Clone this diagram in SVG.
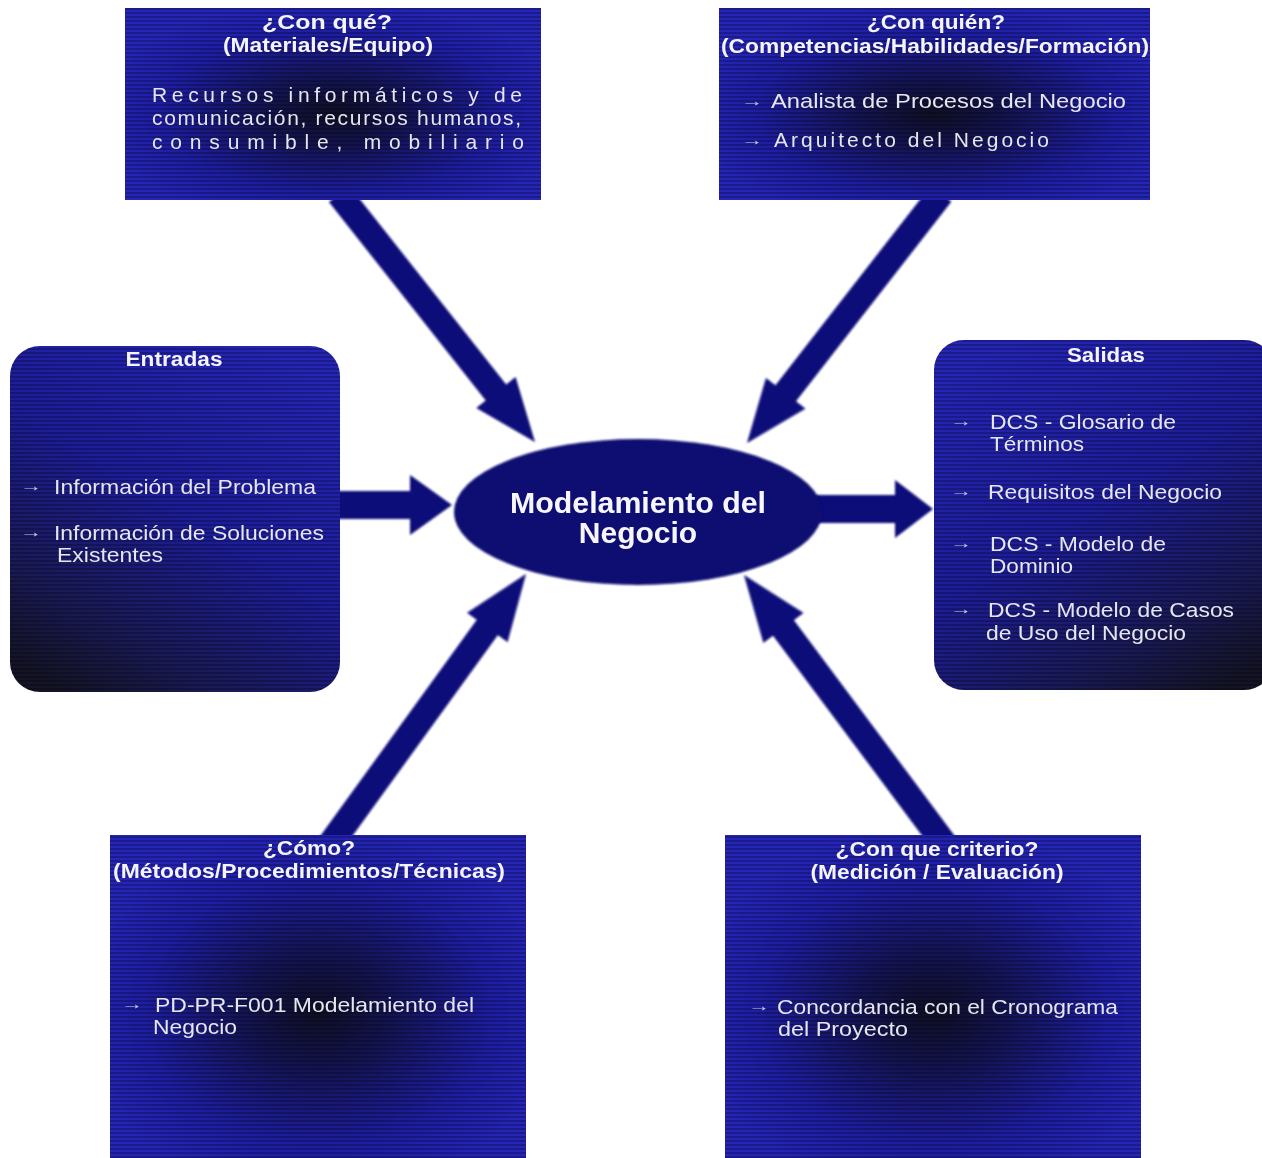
<svg xmlns="http://www.w3.org/2000/svg" width="1262" height="1158" viewBox="0 0 1262 1158">
  <style>
    .t { font-family: "Liberation Sans", Arial, sans-serif; fill: #e6e6ee; }
    .h { font-weight: bold; font-size: 20px; text-anchor: middle; fill: #f4f4fa; }
    .hs { font-weight: bold; font-size: 20px; text-anchor: middle; fill: #f4f4fa; }
    .b { font-size: 21px; }
    .bul { font-size: 15px; fill: #c8c8e4; }
    .core { font-weight: bold; font-size: 30px; text-anchor: middle; fill: #f6f6fc; }
    .conn { fill: #0a0a7a; }
  </style>
  <defs>
    <pattern id="scan" width="4" height="4" patternUnits="userSpaceOnUse">
      <rect x="0" y="0" width="4" height="2" fill="#000018" opacity="0.28"/>
    </pattern>
    <radialGradient id="gRad" cx="0.5" cy="0.55" r="0.58">
      <stop offset="0" stop-color="#0f0f22"/>
      <stop offset="0.3" stop-color="#141450"/>
      <stop offset="0.72" stop-color="#1e1ea2"/>
      <stop offset="1" stop-color="#2525b8"/>
    </radialGradient>
    <linearGradient id="gLeft" x1="0.75" y1="0" x2="0.15" y2="1">
      <stop offset="0" stop-color="#2525b6"/>
      <stop offset="0.45" stop-color="#1d1d98"/>
      <stop offset="0.8" stop-color="#1a1a52"/>
      <stop offset="1" stop-color="#141422"/>
    </linearGradient>
    <linearGradient id="gRight" x1="0.25" y1="0" x2="0.85" y2="1">
      <stop offset="0" stop-color="#2525b6"/>
      <stop offset="0.45" stop-color="#1d1d98"/>
      <stop offset="0.8" stop-color="#1a1a52"/>
      <stop offset="1" stop-color="#141422"/>
    </linearGradient>
    <filter id="soft" x="-10%" y="-10%" width="120%" height="120%">
      <feGaussianBlur stdDeviation="0.8"/>
    </filter>
  </defs>

  <rect width="1262" height="1158" fill="#ffffff"/>

  <!-- block arrows: tip at local origin, shaft running back along -x -->
  <g id="connectors" class="conn" filter="url(#soft)">
    <polygon transform="translate(535,442) rotate(51.7)" points="0,0 -63,-25 -63,-13 -316,-13 -316,13 -63,13 -63,25"/>
    <polygon transform="translate(747,443) rotate(127.9)" points="0,0 -63,-25 -63,-13 -316,-13 -316,13 -63,13 -63,25"/>
    <polygon transform="translate(452,505)" points="0,0 -42,-30 -42,-14 -114,-14 -114,14 -42,14 -42,30"/>
    <polygon transform="translate(933,509)" points="0,0 -38,-29 -38,-14 -118,-14 -118,14 -38,14 -38,29"/>
    <polygon transform="translate(526,574) rotate(-54.1)" points="0,0 -66,-25 -66,-13 -336,-13 -336,13 -66,13 -66,25"/>
    <polygon transform="translate(744,575) rotate(-126.7)" points="0,0 -66,-25 -66,-13 -338,-13 -338,13 -66,13 -66,25"/>
  </g>

  <!-- central process -->
  <g id="core">
    <ellipse cx="638" cy="512" rx="184" ry="73" fill="#0a0a72" filter="url(#soft)"/>
    <text class="t core" x="638" y="513" textLength="256" lengthAdjust="spacingAndGlyphs">Modelamiento del</text>
    <text class="t core" x="638" y="543">Negocio</text>
  </g>

  <!-- ¿Con qué? -->
  <g id="con-que">
    <rect x="125" y="8" width="416" height="192" fill="url(#gRad)"/>
    <rect x="125" y="8" width="416" height="192" fill="url(#scan)"/>
    <text class="t h" x="327" y="29" textLength="130" lengthAdjust="spacingAndGlyphs">¿Con qué?</text>
    <text class="t h" x="328" y="52" textLength="210" lengthAdjust="spacingAndGlyphs">(Materiales/Equipo)</text>
    <text class="t b" x="152" y="102" textLength="370" lengthAdjust="spacing">Recursos informáticos y de</text>
    <text class="t b" x="152" y="125" textLength="369" lengthAdjust="spacing">comunicación, recursos humanos,</text>
    <text class="t b" x="152" y="149" textLength="372" lengthAdjust="spacing">consumible, mobiliario</text>
  </g>

  <!-- ¿Con quién? -->
  <g id="con-quien">
    <rect x="719" y="8" width="431" height="192" fill="url(#gRad)"/>
    <rect x="719" y="8" width="431" height="192" fill="url(#scan)"/>
    <text class="t h" x="936" y="29" textLength="138" lengthAdjust="spacingAndGlyphs">¿Con quién?</text>
    <text class="t h" x="935" y="53" textLength="428" lengthAdjust="spacingAndGlyphs">(Competencias/Habilidades/Formación)</text>
    <text class="t bul" x="741" y="106" textLength="22" lengthAdjust="spacingAndGlyphs">→</text>
    <text class="t b" x="771" y="108" textLength="355" lengthAdjust="spacingAndGlyphs">Analista de Procesos del Negocio</text>
    <text class="t bul" x="741" y="145" textLength="22" lengthAdjust="spacingAndGlyphs">→</text>
    <text class="t b" x="774" y="147" textLength="275" lengthAdjust="spacing">Arquitecto del Negocio</text>
  </g>

  <!-- Entradas -->
  <g id="entradas">
    <rect x="10" y="346" width="330" height="346" rx="30" fill="url(#gLeft)"/>
    <rect x="10" y="346" width="330" height="346" rx="30" fill="url(#scan)"/>
    <text class="t hs" x="174" y="366" textLength="97" lengthAdjust="spacingAndGlyphs">Entradas</text>
    <text class="t bul" x="20" y="491" textLength="22" lengthAdjust="spacingAndGlyphs">→</text>
    <text class="t b" x="54" y="494" textLength="262" lengthAdjust="spacingAndGlyphs">Información del Problema</text>
    <text class="t bul" x="20" y="537" textLength="22" lengthAdjust="spacingAndGlyphs">→</text>
    <text class="t b" x="54" y="540" textLength="270" lengthAdjust="spacingAndGlyphs">Información de Soluciones</text>
    <text class="t b" x="57" y="562" textLength="106" lengthAdjust="spacingAndGlyphs">Existentes</text>
  </g>

  <!-- Salidas -->
  <g id="salidas">
    <rect x="934" y="340" width="340" height="350" rx="30" fill="url(#gRight)"/>
    <rect x="934" y="340" width="340" height="350" rx="30" fill="url(#scan)"/>
    <text class="t hs" x="1106" y="362" textLength="78" lengthAdjust="spacingAndGlyphs">Salidas</text>
    <text class="t bul" x="950" y="426" textLength="22" lengthAdjust="spacingAndGlyphs">→</text>
    <text class="t b" x="990" y="429" textLength="186" lengthAdjust="spacingAndGlyphs">DCS - Glosario de</text>
    <text class="t b" x="990" y="451" textLength="94" lengthAdjust="spacingAndGlyphs">Términos</text>
    <text class="t bul" x="950" y="496" textLength="22" lengthAdjust="spacingAndGlyphs">→</text>
    <text class="t b" x="988" y="499" textLength="234" lengthAdjust="spacingAndGlyphs">Requisitos del Negocio</text>
    <text class="t bul" x="950" y="548" textLength="22" lengthAdjust="spacingAndGlyphs">→</text>
    <text class="t b" x="990" y="551" textLength="176" lengthAdjust="spacingAndGlyphs">DCS - Modelo de</text>
    <text class="t b" x="990" y="573" textLength="83" lengthAdjust="spacingAndGlyphs">Dominio</text>
    <text class="t bul" x="950" y="614" textLength="22" lengthAdjust="spacingAndGlyphs">→</text>
    <text class="t b" x="988" y="617" textLength="246" lengthAdjust="spacingAndGlyphs">DCS - Modelo de Casos</text>
    <text class="t b" x="986" y="640" textLength="200" lengthAdjust="spacingAndGlyphs">de Uso del Negocio</text>
  </g>

  <!-- ¿Cómo? -->
  <g id="como">
    <rect x="110" y="835" width="416" height="323" fill="url(#gRad)"/>
    <rect x="110" y="835" width="416" height="323" fill="url(#scan)"/>
    <text class="t h" x="309" y="855" textLength="92" lengthAdjust="spacingAndGlyphs">¿Cómo?</text>
    <text class="t h" x="309" y="878" textLength="392" lengthAdjust="spacingAndGlyphs">(Métodos/Procedimientos/Técnicas)</text>
    <text class="t bul" x="121" y="1009" textLength="22" lengthAdjust="spacingAndGlyphs">→</text>
    <text class="t b" x="155" y="1012" textLength="319" lengthAdjust="spacingAndGlyphs">PD-PR-F001 Modelamiento del</text>
    <text class="t b" x="153" y="1034" textLength="84" lengthAdjust="spacingAndGlyphs">Negocio</text>
  </g>

  <!-- ¿Con que criterio? -->
  <g id="criterio">
    <rect x="725" y="835" width="416" height="323" fill="url(#gRad)"/>
    <rect x="725" y="835" width="416" height="323" fill="url(#scan)"/>
    <text class="t h" x="937" y="856" textLength="203" lengthAdjust="spacingAndGlyphs">¿Con que criterio?</text>
    <text class="t h" x="937" y="879" textLength="253" lengthAdjust="spacingAndGlyphs">(Medición / Evaluación)</text>
    <text class="t bul" x="748" y="1011" textLength="22" lengthAdjust="spacingAndGlyphs">→</text>
    <text class="t b" x="777" y="1014" textLength="341" lengthAdjust="spacingAndGlyphs">Concordancia con el Cronograma</text>
    <text class="t b" x="778" y="1036" textLength="130" lengthAdjust="spacingAndGlyphs">del Proyecto</text>
  </g>
</svg>
